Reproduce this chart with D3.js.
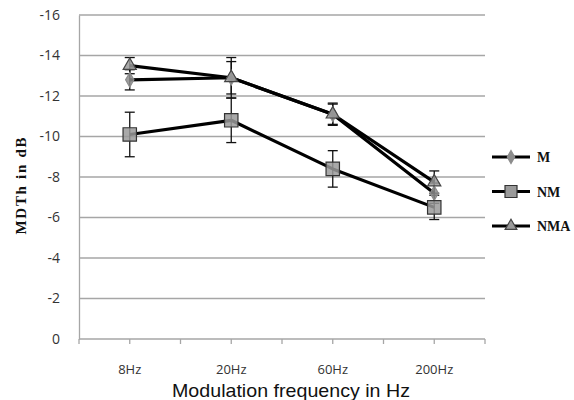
<!DOCTYPE html>
<html>
<head>
<meta charset="utf-8">
<script src="https://cdn.jsdelivr.net/npm/d3@7"></script>
<style>
  body { margin: 0; background: #fff; }
  svg { display: block; }
</style>
</head>
<body>
<div class="chart"></div>
<script>
let categories = ["8Hz", "20Hz", "60Hz", "200Hz"]
let y_ticks = [0, -2, -4, -6, -8, -10, -12, -14, -16]

// mean MDTh per group
let m_vals = [-12.8, -12.9, -11.1, -7.2]
let nm_vals = [-10.1, -10.8, -8.4, -6.5]
let nma_vals = [-13.5, -12.9, -11.1, -7.75]

// error bar half widths
let m_err = [0.5, 1.0, 0.5, 0.5]
let nm_err = [1.1, 1.1, 0.9, 0.6]
let nma_err = [0.4, 0.8, 0.55, 0.55]

let series = [
    {name: "M", vals: m_vals, err: m_err, shape: d3.symbolDiamond, size: 60, fill: "#8c8c8c", stroke: "#8c8c8c"},
    {name: "NM", vals: nm_vals, err: nm_err, shape: d3.symbolSquare, size: 180, fill: "#9a9a9a", stroke: "#333"},
    {name: "NMA", vals: nma_vals, err: nma_err, shape: d3.symbolTriangle, size: 75, fill: "#9a9a9a", stroke: "#444"},
]

let width = 574
let height = 400
let margin = {top: 15, right: 89, bottom: 61, left: 79}
let w = width - margin.left - margin.right
let h = height - margin.top - margin.bottom

let svg = d3.select(".chart")
    .append("svg")
        .attr("width", width)
        .attr("height", height)

let g = svg.append("g")
    .attr("transform", "translate(" + margin.left + "," + margin.top + ")")

let x = d3.scaleBand().domain(categories).range([0, w])
let y = d3.scaleLinear().domain([0, -16]).range([h, 0])

// gridlines
g.append("g")
    .selectAll("line")
    .data(y_ticks.filter(d => d != 0))
    .enter()
    .append("line")
        .attr("x1", 0)
        .attr("x2", w)
        .attr("y1", d => y(d))
        .attr("y2", d => y(d))
        .attr("stroke", "#a6a6a6")
        .attr("stroke-width", 1.3)

// y axis, plain hyphen for minus like the original
let y_axis = g.append("g")
    .call(d3.axisLeft(y).tickValues(y_ticks).tickSize(0).tickPadding(19).tickFormat(d => String(d)))
y_axis.select(".domain").attr("stroke", "#a6a6a6").attr("stroke-width", 1.3)
y_axis.selectAll("text")
    .attr("font-family", "Open Sans, sans-serif")
    .attr("font-size", 14)
    .attr("fill", "#333")

// x axis, ticks at boundaries and at centres
let x_ticks = []
for(let i=0;i<=categories.length*2;i++){
    x_ticks.push(i * w / (categories.length*2))
}
let x_axis = g.append("g")
    .attr("transform", "translate(0," + h + ")")
x_axis.append("line")
    .attr("x1", 0).attr("x2", w)
    .attr("stroke", "#a6a6a6").attr("stroke-width", 1.3)
x_axis.selectAll(".tk")
    .data(x_ticks)
    .enter()
    .append("line")
        .attr("x1", d => d).attr("x2", d => d)
        .attr("y1", 0).attr("y2", 5)
        .attr("stroke", "#a6a6a6").attr("stroke-width", 1.3)
x_axis.selectAll(".lbl")
    .data(categories)
    .enter()
    .append("text")
        .attr("x", d => x(d) + x.bandwidth()/2)
        .attr("y", 35)
        .attr("text-anchor", "middle")
        .attr("font-family", "Open Sans, sans-serif")
        .attr("font-size", 13)
        .attr("fill", "#333")
        .text(d => d)

let cx = d => x(d) + x.bandwidth()/2

// error bars
for(let s of series){
    let eg = g.append("g")
    s.vals.forEach((v, i) => {
        let xx = cx(categories[i])
        let lo = y(v + s.err[i])
        let hi = y(v - s.err[i])
        eg.append("line").attr("x1", xx).attr("x2", xx).attr("y1", lo).attr("y2", hi)
            .attr("stroke", "#111").attr("stroke-width", 1.3)
        eg.append("line").attr("x1", xx-5).attr("x2", xx+5).attr("y1", lo).attr("y2", lo)
            .attr("stroke", "#111").attr("stroke-width", 1.3)
        eg.append("line").attr("x1", xx-5).attr("x2", xx+5).attr("y1", hi).attr("y2", hi)
            .attr("stroke", "#111").attr("stroke-width", 1.3)
    })
}

// lines
let line = d3.line()
    .x((d, i) => cx(categories[i]))
    .y(d => y(d))
for(let s of series){
    g.append("path")
        .datum(s.vals)
        .attr("fill", "none")
        .attr("stroke", "#000")
        .attr("stroke-width", 3.2)
        .attr("stroke-linejoin", "round")
        .attr("d", line)
}

// markers
for(let s of series){
    g.append("g")
        .selectAll("path")
        .data(s.vals)
        .enter()
        .append("path")
            .attr("transform", (d, i) => "translate(" + cx(categories[i]) + "," + y(d) + ")")
            .attr("d", d3.symbol().type(s.shape).size(s.size))
            .attr("fill", s.fill)
            .attr("fill-opacity", 0.85)
            .attr("stroke", s.stroke)
            .attr("stroke-width", 1.2)
}

// legend
let legend = svg.append("g")
series.forEach((s, i) => {
    let ly = 157 + i * 34.5
    legend.append("line")
        .attr("x1", 492).attr("x2", 530).attr("y1", ly).attr("y2", ly)
        .attr("stroke", "#000").attr("stroke-width", 3)
    legend.append("path")
        .attr("transform", "translate(511," + ly + ")")
        .attr("d", d3.symbol().type(s.shape).size(s.size * 0.8))
        .attr("fill", s.fill)
        .attr("stroke", s.stroke)
        .attr("stroke-width", 1.2)
    legend.append("text")
        .attr("x", 537)
        .attr("y", ly + 5)
        .attr("font-family", "Liberation Serif, serif")
        .attr("font-weight", "bold")
        .attr("font-size", 14)
        .attr("fill", "#111")
        .text(s.name)
})

// axis titles
svg.append("text")
    .attr("transform", "translate(26," + 186 + ") rotate(-90)")
    .attr("text-anchor", "middle")
    .attr("font-family", "Liberation Serif, serif")
    .attr("font-weight", "bold")
    .attr("font-size", 15)
    .attr("textLength", 97)
    .attr("lengthAdjust", "spacing")
    .attr("fill", "#111")
    .text("MDTh in dB")

svg.append("text")
    .attr("x", 291)
    .attr("y", 397)
    .attr("text-anchor", "middle")
    .attr("font-family", "Liberation Sans, Arial, sans-serif")
    .attr("font-size", 19)
    .attr("textLength", 238)
    .attr("lengthAdjust", "spacingAndGlyphs")
    .attr("fill", "#111")
    .text("Modulation frequency in Hz")
</script>
</body>
</html>
